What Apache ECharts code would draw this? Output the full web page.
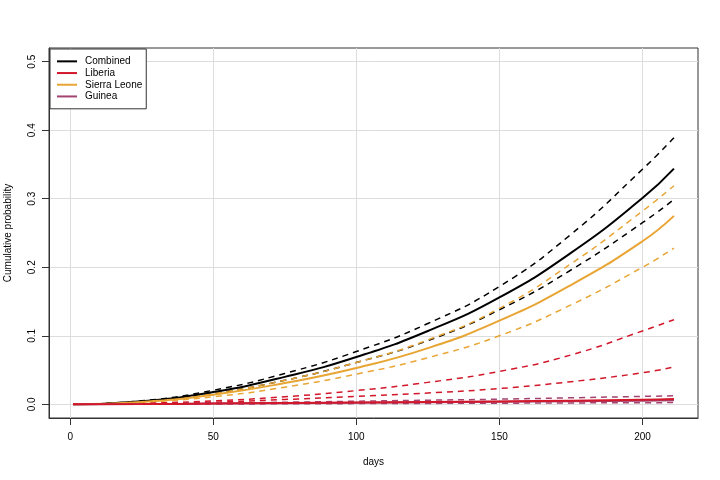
<!DOCTYPE html>
<html>
<head>
<meta charset="utf-8">
<script src="https://cdn.jsdelivr.net/npm/echarts@6/dist/echarts.min.js"></script>
<style>html,body{margin:0;padding:0;background:#fff}#c{width:720px;height:480px}</style>
</head>
<body>
<div id="c"></div>
<script>
const days = [1, 25, 50, 75, 100, 125, 150, 175, 200, 211];
const combined      = [0, 0.0045, 0.018, 0.040, 0.069, 0.107, 0.156, 0.221, 0.301, 0.344];
const combinedUpper = [0, 0.005, 0.0205, 0.045, 0.077, 0.118, 0.172, 0.248, 0.343, 0.389];
const combinedLower = [0, 0.004, 0.016, 0.035, 0.061, 0.093, 0.138, 0.196, 0.265, 0.299];
const sierra        = [0, 0.0035, 0.014, 0.031, 0.053, 0.082, 0.122, 0.174, 0.238, 0.275];
const sierraUpper   = [0, 0.004, 0.016, 0.035, 0.061, 0.094, 0.140, 0.205, 0.282, 0.319];
const sierraLower   = [0, 0.003, 0.011, 0.025, 0.044, 0.068, 0.100, 0.145, 0.200, 0.228];
const liberia       = [0, 0.0003, 0.001, 0.0018, 0.0026, 0.0034, 0.0042, 0.0052, 0.0065, 0.0076];
const liberiaUpper  = [0, 0.0015, 0.005, 0.011, 0.020, 0.032, 0.048, 0.072, 0.107, 0.1235];
const liberiaLower  = [0, 0.0008, 0.003, 0.007, 0.0115, 0.0165, 0.023, 0.033, 0.046, 0.0544];
const guinea        = [0, 0.0003, 0.001, 0.0017, 0.0024, 0.003, 0.0037, 0.0045, 0.0053, 0.006];
const guineaUpper   = [0, 0.0005, 0.0015, 0.003, 0.0045, 0.006, 0.0075, 0.0095, 0.0115, 0.0124];
const guineaLower   = [0, 0.0001, 0.0004, 0.0007, 0.001, 0.0013, 0.0016, 0.002, 0.0023, 0.0025];
const xTicks = [0, 50, 100, 150, 200];
const yTicks = [0, 0.1, 0.2, 0.3, 0.4, 0.5];
const legendNames = ['Combined', 'Liberia', 'Sierra Leone', 'Guinea'];

const colors = {Combined: '#000000', Liberia: '#d2172a', 'Sierra Leone': '#e8a534', Guinea: '#a3436f'};
const FONT = 'Liberation Sans, Arial, Helvetica, sans-serif';

function pairs(vals) { return days.map((d, i) => [d, vals[i]]); }
function solid(name, vals) {
  return {name: name, type: 'line', data: pairs(vals), symbol: 'none', smooth: 0.5,
    lineStyle: {color: colors[name], width: 2}, itemStyle: {color: colors[name]}, z: 3};
}
function dashed(name, vals) {
  return {name: name + ' CI', type: 'line', data: pairs(vals), symbol: 'none', smooth: 0.5,
    lineStyle: {color: colors[name], width: 1.5, type: [6, 5]}, itemStyle: {color: colors[name]}, z: 2};
}

const series = [
  solid('Combined', combined), dashed('Combined', combinedUpper), dashed('Combined', combinedLower),
  solid('Sierra Leone', sierra), dashed('Sierra Leone', sierraUpper), dashed('Sierra Leone', sierraLower),
  dashed('Liberia', liberiaUpper), dashed('Liberia', liberiaLower),
  dashed('Guinea', guineaUpper), dashed('Guinea', guineaLower),
  solid('Guinea', guinea), solid('Liberia', liberia)
];

const chart = echarts.init(document.getElementById('c'), null, {renderer: 'canvas'});
chart.setOption({
  animation: false,
  backgroundColor: '#fff',
  textStyle: {fontFamily: FONT},
  grid: {left: 49, right: 22, top: 48, bottom: 62, outerBoundsMode: 'none', containLabel: false,
    show: true, borderColor: '#333', borderWidth: 1, backgroundColor: 'transparent'},
  legend: {
    data: legendNames.map(n => ({name: n, icon: 'rect', itemStyle: {color: colors[n]}})),
    orient: 'vertical', left: 50, top: 49,
    itemWidth: 20, itemHeight: 2, itemGap: 0,
    padding: [6.5, 4, 6.5, 7],
    backgroundColor: '#fff', borderColor: '#333', borderWidth: 1, borderRadius: 0,
    textStyle: {fontFamily: FONT, fontSize: 10, color: '#000', lineHeight: 11.7, padding: [0, 0, 0, 3]},
    selectedMode: false
  },
  xAxis: {
    type: 'value', min: -7.4, max: 219.4,
    name: 'days', nameLocation: 'middle', nameGap: 39,
    nameTextStyle: {fontFamily: FONT, fontSize: 10, color: '#000'},
    axisLine: {show: true, onZero: false, lineStyle: {color: '#333', width: 1}},
    axisTick: {show: true, length: 7, customValues: xTicks, lineStyle: {color: '#333'}},
    axisLabel: {customValues: xTicks, margin: 14, fontFamily: FONT, fontSize: 10, color: '#000'},
    splitLine: {show: true, lineStyle: {color: '#dddddd', width: 1}}
  },
  yAxis: {
    type: 'value', min: -0.02, max: 0.52,
    name: 'Cumulative probability', nameLocation: 'middle', nameGap: 36, nameRotate: 90,
    nameTextStyle: {fontFamily: FONT, fontSize: 10, color: '#000'},
    axisLine: {show: true, onZero: false, lineStyle: {color: '#333', width: 1}},
    axisTick: {show: true, length: 7, customValues: yTicks, lineStyle: {color: '#333'}},
    axisLabel: {customValues: yTicks, rotate: 90, margin: 12, fontFamily: FONT, fontSize: 10, color: '#000',
      formatter: v => v.toFixed(1)},
    splitLine: {show: true, lineStyle: {color: '#dddddd', width: 1}}
  },
  series: series
});
</script>
</body>
</html>
